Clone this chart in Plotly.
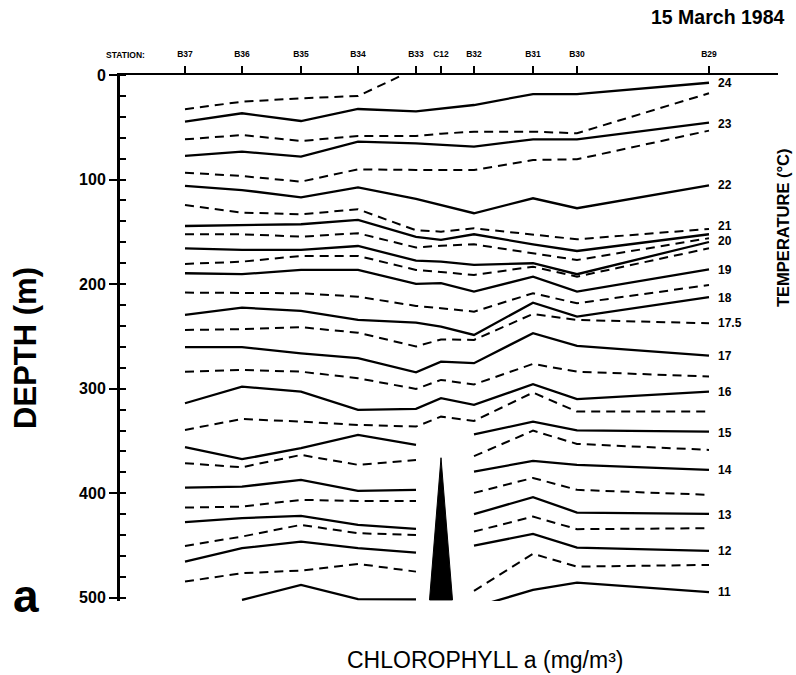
import plotly.graph_objects as go

# ---------------- data ----------------
stations = ["B37", "B36", "B35", "B34", "B33", "C12", "B32", "B31", "B30", "B29"]
station_km = [65, 122, 181, 238, 296, 321, 354, 413, 457, 589]

# isotherm depths (m) at each station (None = not drawn)
t24_5 = [32.8, 25.5, 22.3, 20.1, -6, None, None, None, None, None]
t24 = [44.6, 36.6, 44.0, 32.5, 34.7, 32.2, 28.7, 18.2, 18.2, 7.4]
t23_5 = [61.5, 57.4, 63.1, 58.3, 58.3, 56.1, 54.2, 54.2, 55.7, 17.5]
t23 = [77.4, 73.3, 78.1, 63.7, 65.3, 66.9, 68.5, 61.5, 61.5, 45.6]
t22_5 = [93.4, 96.6, 102.0, 90.2, 90.8, 90.8, 90.8, 81.3, 80.6, 53.2]
t22 = [106.1, 110.0, 117.0, 107.4, 118.5, 124.5, 132.2, 117.9, 127.4, 105.5]
t21_5 = [124.3, 131.6, 133.2, 128.4, 148.5, 149.8, 146.6, 152.6, 157.1, 147.2]
t21 = [144.4, 143.4, 142.7, 138.6, 154.7, 157.7, 152.3, 161.9, 168.3, 152.3]
t20_5 = [152.3, 152.3, 154.6, 151.3, 165.0, 163.2, 161.9, 170.2, 176.9, 156.1]
t20 = [165.7, 167.3, 167.3, 163.5, 177.5, 178.5, 181.6, 180.0, 190.5, 159.7]
t19_5 = [180.7, 178.5, 173.0, 173.0, 186.4, 188.3, 191.2, 183.3, 192.8, 165.7]
t19 = [189.6, 190.5, 186.4, 186.4, 199.8, 199.1, 207.2, 192.8, 207.2, 185.8]
t18_5 = [208.1, 208.7, 208.7, 212.0, 220.8, 223.0, 226.3, 208.7, 218.3, 200.8]
t18 = [229.4, 222.5, 225.6, 234.2, 236.8, 240.6, 248.6, 217.7, 231.1, 212.5]
t17_5 = [243.8, 243.1, 241.2, 246.4, 259.6, 252.9, 253.3, 228.5, 234.2, 237.4]
t17 = [260.3, 260.3, 266.1, 270.8, 284.4, 274.1, 275.6, 246.9, 259.1, 268.4]
t16_5 = [283.7, 282.0, 283.7, 290.0, 300.2, 291.6, 295.9, 276.3, 283.7, 288.4]
t16 = [313.9, 298.0, 302.8, 320.3, 319.3, 309.1, 315.5, 295.7, 310.0, 302.8]
t15_5 = [339.4, 328.9, 331.5, 334.6, 336.2, 326.7, 330.8, 303.7, 321.9, 321.9]
t15 = [355.9, 367.4, 356.9, 344.2, 353.7, None, 343.7, 331.5, 339.9, 341.0]
t14_5 = [371.2, 375.1, 363.3, 372.8, 368.1, None, 364.5, 340.1, 352.8, 358.5]
t14 = [394.6, 393.6, 387.2, 397.7, 396.7, None, 379.3, 369.0, 372.8, 377.6]
t13_5 = [413.7, 412.7, 406.3, 407.3, 407.3, None, 399.6, 385.3, 396.7, 401.5]
t13 = [427.6, 423.8, 421.6, 430.2, 434.0, None, 420.0, 403.7, 418.4, 419.7]
t12_5 = [450.3, 441.4, 430.2, 438.2, 439.8, None, 436.6, 422.3, 434.3, 433.4]
t12 = [465.3, 452.5, 446.2, 452.5, 456.7, None, 450.1, 438.8, 451.9, 455.1]
t11_5 = [484.4, 476.4, 473.9, 467.5, 474.9, None, 493.3, 457.9, 470.1, 468.5]
t11 = [None, 502.0, 487.6, 501.2, 501.5, None, 509.0, 492.4, 485.4, 494.6]

isotherm_temps = [24.5, 24, 23.5, 23, 22.5, 22, 21.5, 21, 20.5, 20, 19.5, 19,
                  18.5, 18, 17.5, 17, 16.5, 16, 15.5, 15, 14.5, 14, 13.5, 13,
                  12.5, 12, 11.5, 11]
isotherm_depths = [t24_5, t24, t23_5, t23, t22_5, t22, t21_5, t21, t20_5, t20,
                   t19_5, t19, t18_5, t18, t17_5, t17, t16_5, t16, t15_5, t15,
                   t14_5, t14, t13_5, t13, t12_5, t12, t11_5, t11]

# temperature labels at the right end (text, depth m)
label_text = ["24", "23", "22", "21", "20", "19", "18", "17.5", "17", "16",
              "15", "14", "13", "12", "11"]
label_depth = [7.6, 46.5, 105, 144.6, 158.3, 186.4, 213.3, 237.4, 268.3, 302.8,
               342.4, 377.6, 420.5, 455.5, 494]

# black wedge at station C12 (depth of top, base)
wedge_top = 366
wedge_base = 502
wedge_half_width = 11.5

depth_ticks = [0, 100, 200, 300, 400, 500]

# ---------------- layout geometry ----------------
W, H = 796, 675
L, R, T = 120, 18, 75
px_per_m = 523 / 500
depth_max = 503
plot_w = W - L - R
plot_h = depth_max * px_per_m
B = H - T - plot_h

def pxx(xp):
    return (xp - L) / plot_w

def pxy(yp):
    return 1 - (yp - T) / plot_h

FONT = "Liberation Sans, Arial, Helvetica, sans-serif"

fig = go.Figure()

for temp, depths in zip(isotherm_temps, isotherm_depths):
    dashed = (temp % 1) != 0
    fig.add_trace(go.Scatter(
        x=station_km, y=depths, mode="lines", connectgaps=False,
        line=dict(color="black", width=2.0 if dashed else 2.3,
                  dash="9px,6px" if dashed else "solid"),
        hoverinfo="skip", showlegend=False))

c12 = station_km[stations.index("C12")]
fig.add_trace(go.Scatter(
    x=[c12 - wedge_half_width, c12, c12 + wedge_half_width, c12 - wedge_half_width],
    y=[wedge_base, wedge_top, wedge_base, wedge_base],
    mode="lines", fill="toself", fillcolor="black",
    line=dict(color="black", width=1), yaxis="y2",
    hoverinfo="skip", showlegend=False))

annotations = []
b29 = station_km[-1]
for txt, d in zip(label_text, label_depth):
    annotations.append(dict(x=b29, y=d, xref="x", yref="y", text=txt,
                            xanchor="left", yanchor="middle", xshift=7,
                            showarrow=False,
                            font=dict(family=FONT, size=12, color="black", weight="bold")))

annotations += [
    dict(x=pxx(786), y=pxy(17), xref="paper", yref="paper", text="15 March 1984",
         xanchor="right", yanchor="middle", showarrow=False,
         font=dict(family=FONT, size=19.5, color="black", weight="bold")),
    dict(x=pxx(125), y=pxy(55), xref="paper", yref="paper", text="STATION:",
         xanchor="center", yanchor="middle", showarrow=False,
         font=dict(family=FONT, size=8.5, color="black", weight="bold")),
    dict(x=pxx(26), y=pxy(348), xref="paper", yref="paper", text="DEPTH (m)",
         textangle=-90, xanchor="center", yanchor="middle", showarrow=False,
         font=dict(family=FONT, size=31, color="black", weight="bold")),
    dict(x=pxx(26), y=pxy(596), xref="paper", yref="paper", text="a",
         xanchor="center", yanchor="middle", showarrow=False,
         font=dict(family=FONT, size=46, color="black", weight="bold")),
    dict(x=pxx(783), y=pxy(228), xref="paper", yref="paper", text="TEMPERATURE (°C)",
         textangle=-90, xanchor="center", yanchor="middle", showarrow=False,
         font=dict(family=FONT, size=16.5, color="black", weight="bold")),
    dict(x=pxx(485), y=pxy(660), xref="paper", yref="paper",
         text="CHLOROPHYLL a (mg/m³)",
         xanchor="center", yanchor="middle", showarrow=False,
         font=dict(family=FONT, size=23, color="black")),
]

fig.update_layout(
    width=W, height=H,
    margin=dict(l=L, r=R, t=T, b=B, pad=0),
    paper_bgcolor="white", plot_bgcolor="white",
    showlegend=False,
    xaxis=dict(range=[0, plot_w], side="top", showline=True, linewidth=2,
               linecolor="black", ticks="outside", ticklen=7, tickwidth=1.5,
               tickcolor="black", tickvals=station_km, ticktext=stations,
               tickfont=dict(family=FONT, size=8.5, color="black", weight="bold"),
               ticklabelstandoff=6, showgrid=False, zeroline=False, fixedrange=True),
    yaxis=dict(range=[depth_max, 0], showline=True, linewidth=3, linecolor="black",
               ticks="outside", ticklen=8, tickwidth=2, tickcolor="black",
               tickvals=depth_ticks,
               tickfont=dict(family=FONT, size=16, color="black", weight="bold"),
               minor=dict(dtick=20, tick0=0, ticks="inside", ticklen=6,
                          tickwidth=1.5, tickcolor="black"),
               showgrid=False, zeroline=False, fixedrange=True),
    yaxis2=dict(range=[depth_max, 0], overlaying="y", side="left",
                showline=False, ticks="inside", ticklen=6, tickwidth=2,
                tickcolor="black", tickvals=depth_ticks, showticklabels=False,
                showgrid=False, zeroline=False, fixedrange=True),
    annotations=annotations,
)

fig.write_html("out.html", config={"displayModeBar": False},
               post_script="document.body.style.margin='0px';")
